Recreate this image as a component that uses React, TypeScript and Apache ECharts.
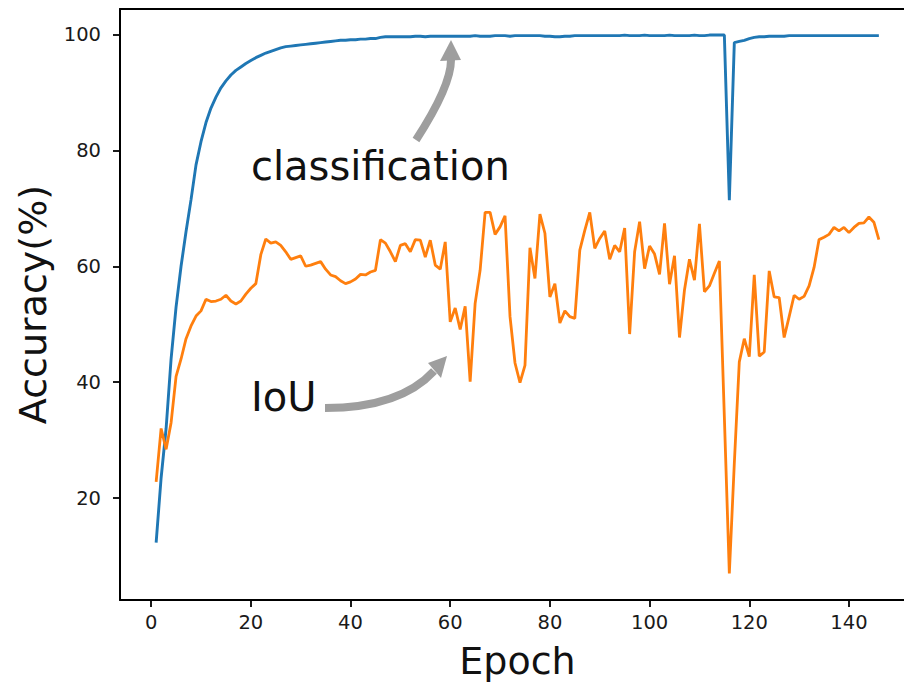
import React, { useEffect, useRef } from "react";
import * as echarts from "echarts";

const classification = [
  12.3, 23.5, 32, 44, 53, 60, 66, 71.5, 77.5, 81.5,
  84.8, 87.3, 89.2, 90.8, 92.0, 93.0, 93.8, 94.4, 95.0, 95.5,
  96.0, 96.4, 96.8, 97.1, 97.4, 97.7, 97.9, 98.0, 98.1, 98.2,
  98.3, 98.4, 98.5, 98.6, 98.7, 98.8, 98.9, 99.0, 99.0, 99.1,
  99.1, 99.2, 99.2, 99.3, 99.3, 99.5, 99.6, 99.6, 99.6, 99.6,
  99.6, 99.6, 99.7, 99.7, 99.6, 99.7, 99.7, 99.7, 99.7, 99.7,
  99.7, 99.7, 99.7, 99.7, 99.8, 99.7, 99.7, 99.7, 99.8, 99.8,
  99.8, 99.7, 99.8, 99.8, 99.8, 99.8, 99.8, 99.8, 99.7, 99.7,
  99.6, 99.6, 99.7, 99.7, 99.8, 99.8, 99.8, 99.8, 99.8, 99.8,
  99.8, 99.8, 99.8, 99.8, 99.9, 99.8, 99.8, 99.8, 99.9, 99.8,
  99.8, 99.8, 99.8, 99.9, 99.8, 99.8, 99.8, 99.8, 99.9, 99.8,
  99.8, 99.9, 99.9, 99.9, 99.9, 71.4, 98.6, 98.8, 99.0, 99.3,
  99.5, 99.6, 99.6, 99.7, 99.7, 99.7, 99.7, 99.8, 99.8, 99.8,
  99.8, 99.8, 99.8, 99.8, 99.8, 99.8, 99.8, 99.8, 99.8, 99.8,
  99.8, 99.8, 99.8, 99.8, 99.8, 99.8,
];

const iou = [
  22.8, 32.0, 28.4, 33.0, 41.0, 44.0, 47.5, 49.7, 51.4, 52.3,
  54.3, 53.9, 54.0, 54.3, 55.0, 54.0, 53.5, 54.0, 55.2, 56.2,
  57.0, 62.0, 64.7, 64.0, 64.2, 63.6, 62.5, 61.2, 61.5, 61.8,
  60.0, 60.2, 60.5, 60.8, 59.5, 58.5, 58.2, 57.5, 57.0, 57.3,
  57.8, 58.6, 58.5, 59.0, 59.3, 64.6, 64.0, 62.5, 60.8, 63.6,
  63.9, 62.5, 64.6, 64.5, 61.6, 64.5, 60.2, 59.5, 64.2, 50.4,
  52.8, 49.1, 53.1, 40.1, 53.6, 59.3, 69.3, 69.3, 65.5, 66.8,
  68.7, 51.3, 43.3, 39.9, 42.9, 63.2, 57.9, 69.0, 65.7, 54.7,
  57.0, 50.2, 52.3, 51.3, 51.0, 62.8, 66.2, 69.3, 63.1, 64.8,
  66.1, 61.2, 63.6, 62.5, 66.6, 48.3, 62.5, 67.7, 59.6, 63.5,
  62.1, 58.6, 67.4, 56.9, 61.8, 47.7, 55.9, 61.2, 57.6, 67.3,
  55.6, 56.6, 58.8, 60.9, 34.0, 7.0, 26.0, 43.5, 47.5, 44.4,
  58.5, 44.5, 45.2, 59.2, 54.7, 54.6, 47.7, 51.3, 55.0, 54.3,
  54.8, 56.6, 59.8, 64.6, 65.0, 65.5, 66.7, 66.1, 66.7, 65.8,
  66.7, 67.4, 67.5, 68.5, 67.6, 64.6,
];

const xTicks = [0, 20, 40, 60, 80, 100, 120, 140];
const yTicks = [20, 40, 60, 80, 100];

const FONT = '"DejaVu Sans", "Noto Sans", sans-serif';

export default function App() {
  const ref = useRef<HTMLDivElement>(null);

  useEffect(() => {
    document.body.style.margin = "0";
    if (!ref.current) return;
    const chart = echarts.init(ref.current, undefined, { renderer: "svg" });
    const epochs = classification.map((_, i) => i + 1);
    const clsData = epochs.map((e, i) => [e, classification[i]]);
    const iouData = epochs.map((e, i) => [e, iou[i]]);
    const gray = "#9e9e9e";

    chart.setOption({
      animation: false,
      backgroundColor: "#fff",
      grid: {
        left: 120,
        top: 9,
        right: 15,
        bottom: 85,
        show: false,
      },
      xAxis: [
        {
          type: "value",
          min: -6.25,
          max: 153.25,
          name: "Epoch",
          nameLocation: "middle",
          nameGap: 42,
          nameTextStyle: { fontSize: 38, fontFamily: FONT, color: "#111" },
          axisLine: { show: true, onZero: false, lineStyle: { color: "#000", width: 2 } },
          axisTick: { show: true, inside: false, length: 7, customValues: xTicks, lineStyle: { color: "#000", width: 1.8 } },
          axisLabel: { customValues: xTicks, margin: 12, fontSize: 19.5, fontFamily: FONT, color: "#1a1a1a" },
          splitLine: { show: false },
        },
        {
          type: "value",
          position: "top",
          min: -6.25,
          max: 153.25,
          axisLine: { show: true, onZero: false, lineStyle: { color: "#000", width: 2 } },
          axisTick: { show: false },
          axisLabel: { show: false },
          splitLine: { show: false },
        },
      ],
      yAxis: {
        type: "value",
        min: 2.4,
        max: 104.4,
        name: "Accuracy(%)",
        nameLocation: "middle",
        nameGap: 68,
        nameTextStyle: { fontSize: 38, fontFamily: FONT, color: "#111" },
        axisLine: { show: true, onZero: false, lineStyle: { color: "#000", width: 2 } },
        axisTick: { show: true, inside: false, length: 7, customValues: yTicks, lineStyle: { color: "#000", width: 1.8 } },
        axisLabel: { customValues: yTicks, margin: 19, fontSize: 19.5, fontFamily: FONT, color: "#1a1a1a" },
        splitLine: { show: false },
      },
      series: [
        {
          name: "classification",
          type: "line",
          xAxisIndex: 0,
          data: clsData,
          showSymbol: false,
          lineStyle: { color: "#1f77b4", width: 2.9 },
          itemStyle: { color: "#1f77b4" },
        },
        {
          name: "IoU",
          type: "line",
          xAxisIndex: 0,
          data: iouData,
          showSymbol: false,
          lineStyle: { color: "#ff7f0e", width: 2.8 },
          itemStyle: { color: "#ff7f0e" },
        },
      ],
      graphic: [
        {
          type: "text",
          x: 251,
          y: 166,
          style: { text: "classification", font: `40px ${FONT}`, fill: "#111", verticalAlign: "middle", align: "left" },
        },
        {
          type: "text",
          x: 251,
          y: 397,
          style: { text: "IoU", font: `40px ${FONT}`, fill: "#111", verticalAlign: "middle", align: "left" },
        },
        {
          type: "bezierCurve",
          shape: { x1: 416, y1: 140, cpx1: 451, cpy1: 86, x2: 451, y2: 60 },
          style: { stroke: gray, lineWidth: 8, fill: null },
        },
        {
          type: "polygon",
          shape: { points: [[440, 61], [461, 60], [451, 40]] },
          style: { fill: gray },
        },
        {
          type: "bezierCurve",
          shape: { x1: 325, y1: 408, cpx1: 400, cpy1: 408, x2: 434, y2: 371 },
          style: { stroke: gray, lineWidth: 8, fill: null },
        },
        {
          type: "polygon",
          shape: { points: [[428, 363], [441, 378], [447, 356]] },
          style: { fill: gray },
        },
      ],
    });

    return () => {
      chart.dispose();
    };
  }, []);

  return (
    <div style={{ width: 904, height: 685, overflow: "hidden", position: "relative" }}>
      <div ref={ref} style={{ width: 930, height: 685 }} />
    </div>
  );
}
